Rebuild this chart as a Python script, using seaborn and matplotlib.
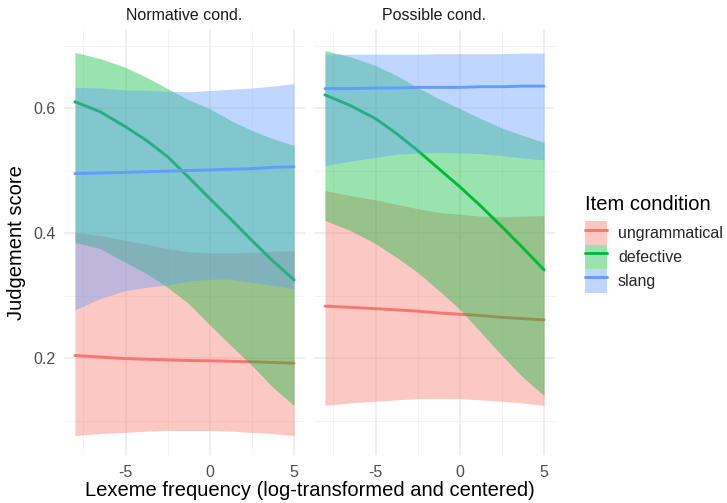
import numpy as np
import pandas as pd
import matplotlib
matplotlib.use("Agg")
import matplotlib.pyplot as plt
import seaborn as sns
from matplotlib.patches import Patch
from matplotlib.lines import Line2D
from matplotlib.ticker import FixedLocator

# ---------------- data ----------------
panels = ["Normative cond.", "Possible cond."]
conditions = ["ungrammatical", "defective", "slang"]
colors = ["#F8766D", "#00BA38", "#619CFF"]
freq = [-8, -6.5, -5, -3.75, -2.5, -1.25, 0, 1.25, 2.5, 3.75, 5]

# Normative cond.
norm_ungr_fit = [0.204, 0.2015, 0.199, 0.198, 0.197, 0.196, 0.1955, 0.1948, 0.194, 0.1928, 0.1917]
norm_ungr_lo = [0.076, 0.079, 0.081, 0.083, 0.084, 0.084, 0.084, 0.083, 0.081, 0.079, 0.076]
norm_ungr_hi = [0.401, 0.396, 0.388, 0.382, 0.375, 0.370, 0.368, 0.368, 0.369, 0.371, 0.372]
norm_def_fit = [0.610, 0.594, 0.570, 0.548, 0.522, 0.489, 0.455, 0.422, 0.388, 0.355, 0.325]
norm_def_lo = [0.385, 0.375, 0.353, 0.335, 0.313, 0.287, 0.253, 0.220, 0.188, 0.153, 0.124]
norm_def_hi = [0.689, 0.679, 0.665, 0.649, 0.631, 0.613, 0.599, 0.580, 0.564, 0.551, 0.540]
norm_slang_fit = [0.495, 0.496, 0.497, 0.498, 0.499, 0.500, 0.501, 0.502, 0.503, 0.505, 0.506]
norm_slang_lo = [0.277, 0.295, 0.308, 0.313, 0.317, 0.323, 0.326, 0.326, 0.321, 0.316, 0.311]
norm_slang_hi = [0.633, 0.632, 0.629, 0.628, 0.627, 0.626, 0.628, 0.630, 0.632, 0.635, 0.639]

# Possible cond.
poss_ungr_fit = [0.283, 0.281, 0.279, 0.277, 0.275, 0.272, 0.270, 0.268, 0.265, 0.263, 0.261]
poss_ungr_lo = [0.124, 0.128, 0.131, 0.133, 0.135, 0.135, 0.135, 0.133, 0.131, 0.128, 0.124]
poss_ungr_hi = [0.468, 0.460, 0.453, 0.446, 0.439, 0.433, 0.430, 0.427, 0.426, 0.427, 0.428]
poss_def_fit = [0.621, 0.604, 0.583, 0.559, 0.532, 0.503, 0.474, 0.443, 0.410, 0.376, 0.341]
poss_def_lo = [0.420, 0.404, 0.383, 0.361, 0.337, 0.308, 0.278, 0.241, 0.204, 0.169, 0.140]
poss_def_hi = [0.692, 0.682, 0.668, 0.652, 0.633, 0.615, 0.599, 0.583, 0.568, 0.556, 0.545]
poss_slang_fit = [0.631, 0.631, 0.632, 0.632, 0.633, 0.633, 0.633, 0.634, 0.634, 0.635, 0.635]
poss_slang_lo = [0.508, 0.515, 0.521, 0.526, 0.528, 0.529, 0.528, 0.527, 0.524, 0.520, 0.517]
poss_slang_hi = [0.686, 0.686, 0.686, 0.686, 0.686, 0.687, 0.687, 0.687, 0.687, 0.688, 0.688]

x_ticks = [-5, 0, 5]
x_minor = [-7.5, -2.5, 2.5]
y_ticks = [0.2, 0.4, 0.6]
y_minor = [0.1, 0.3, 0.5, 0.7]

series = {
    ("Normative cond.", "ungrammatical"): (norm_ungr_fit, norm_ungr_lo, norm_ungr_hi),
    ("Normative cond.", "defective"): (norm_def_fit, norm_def_lo, norm_def_hi),
    ("Normative cond.", "slang"): (norm_slang_fit, norm_slang_lo, norm_slang_hi),
    ("Possible cond.", "ungrammatical"): (poss_ungr_fit, poss_ungr_lo, poss_ungr_hi),
    ("Possible cond.", "defective"): (poss_def_fit, poss_def_lo, poss_def_hi),
    ("Possible cond.", "slang"): (poss_slang_fit, poss_slang_lo, poss_slang_hi),
}
rows = []
for (p, c), (f, lo, hi) in series.items():
    for xi, fi, li, hi_ in zip(freq, f, lo, hi):
        rows.append(dict(panel=p, cond=c, freq=xi, fit=fi, lo=li, hi=hi_))
df = pd.DataFrame(rows)

# ---------------- style ----------------
sns.set_theme(style="whitegrid")
plt.rcParams['font.family'] = ['Liberation Sans', 'DejaVu Sans']

W, H = 727, 503
fig = plt.figure(figsize=(W / 100, H / 100), dpi=100)
fig.patch.set_facecolor("white")


def rect(x0, y0, x1, y1):
    return [x0 / W, 1 - y1 / H, (x1 - x0) / W, (y1 - y0) / H]


axes = [fig.add_axes(rect(64, 30, 305, 455)), fig.add_axes(rect(314, 30, 555, 455))]

for k, (ax, p) in enumerate(zip(axes, panels)):
    ax.set_facecolor("white")
    sub = df[df.panel == p]
    for i, (c, col) in enumerate(zip(conditions, colors)):
        s = sub[sub.cond == c]
        ax.fill_between(s.freq, s.lo, s.hi, color=col, alpha=0.4, lw=0,
                        zorder=2 + 2 * i)
        sns.lineplot(data=s, x="freq", y="fit", color=col, lw=2.1, ax=ax,
                     legend=False, zorder=3 + 2 * i)
    ax.set_xlim(-8.65, 5.65)
    ax.set_ylim(0.0448, 0.7248)
    ax.xaxis.set_major_locator(FixedLocator(x_ticks))
    ax.xaxis.set_minor_locator(FixedLocator(x_minor))
    ax.yaxis.set_major_locator(FixedLocator(y_ticks))
    ax.yaxis.set_minor_locator(FixedLocator(y_minor))
    ax.grid(which="major", color="#EBEBEB", lw=1.1, zorder=0)
    ax.grid(which="minor", color="#F3F3F3", lw=0.7, zorder=0)
    ax.set_axisbelow(True)
    for sp in ax.spines.values():
        sp.set_visible(False)
    ax.tick_params(which="both", length=0, labelsize=11.5, labelcolor="#4D4D4D")
    ax.tick_params(axis="x", pad=7)
    ax.tick_params(axis="y", pad=6)
    ax.set_xlabel("")
    ax.set_ylabel("")
    if k == 1:
        ax.tick_params(axis="y", labelleft=False)
    ax.set_xticklabels([str(t) for t in x_ticks])
    if k == 0:
        ax.set_yticklabels([f"{t:.1f}" for t in y_ticks])
    bb = ax.get_position()
    fig.text((bb.x0 + bb.x1) / 2, 1 - 16 / H, p, ha="center", va="center",
             fontsize=11.5, color="#1A1A1A")

fig.text(310 / W, 1 - 491 / H, "Lexeme frequency (log-transformed and centered)",
         ha="center", va="center", fontsize=14.5, color="black")
fig.text(17 / W, 1 - 243 / H, "Judgement score", ha="center", va="center",
         rotation=90, fontsize=14.5, color="black")

# legend
fig.text(585 / W, 1 - 210 / H, "Item condition", ha="left", va="baseline",
         fontsize=14.5, color="black")
handles = [(Patch(facecolor=col, alpha=0.4, edgecolor="none"),
            Line2D([], [], color=col, lw=2.1)) for col in colors]
leg = fig.legend(handles, conditions, loc="upper left",
                 bbox_to_anchor=(585 / W, 1 - 221 / H), frameon=False,
                 borderpad=0, borderaxespad=0, handlelength=1.375,
                 handleheight=1.93, labelspacing=0.0, handletextpad=0.69,
                 fontsize=11.5)

fig.savefig("out.png", dpi=100, facecolor="white")
